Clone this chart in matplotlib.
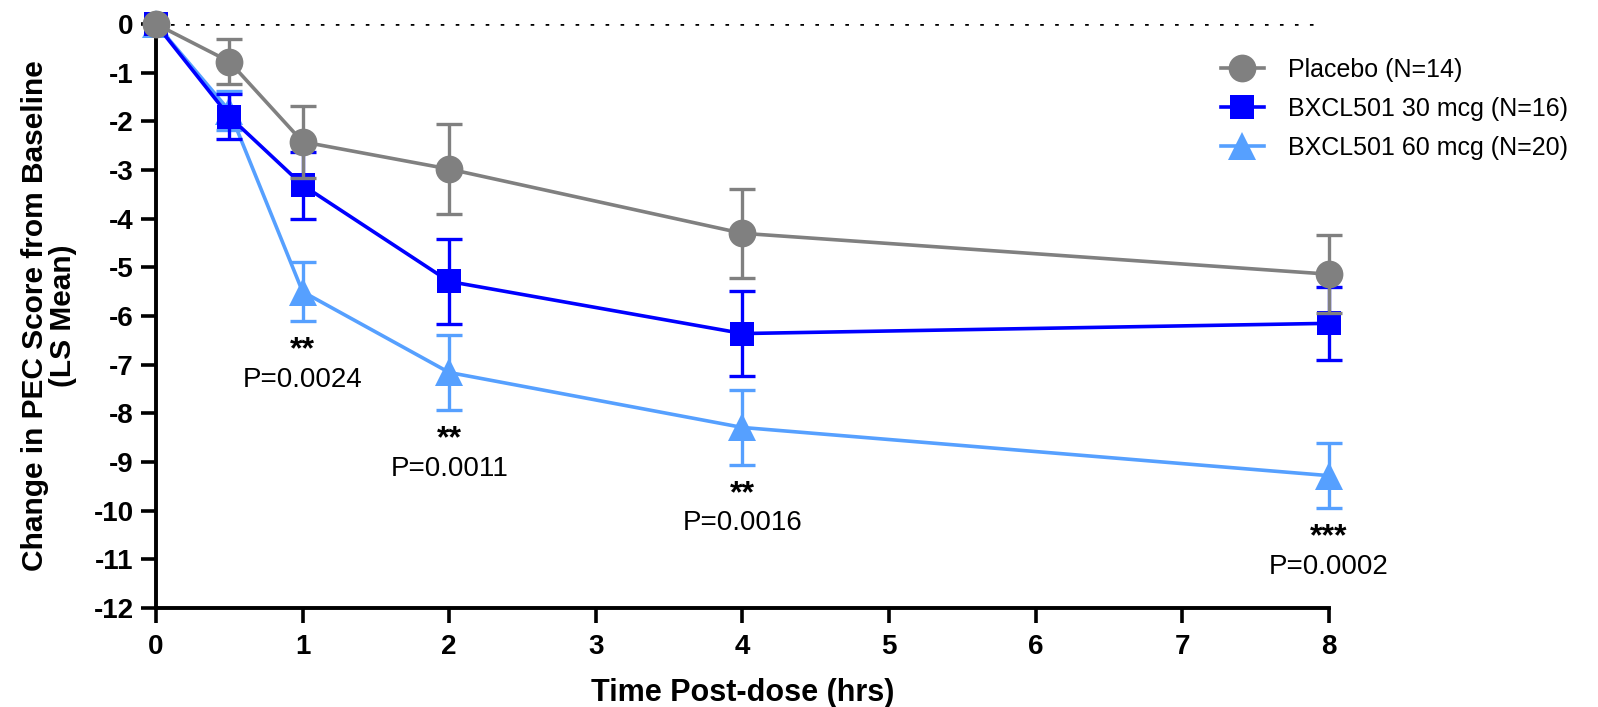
import matplotlib
matplotlib.use('Agg')
import matplotlib.pyplot as plt
import numpy as np

# Data (LS mean change and SE)
time_hrs = [0, 0.5, 1, 2, 4, 8]

placebo_mean = [0, -0.77, -2.42, -2.98, -4.30, -5.14]
placebo_se = [0, 0.46, 0.74, 0.92, 0.91, 0.80]

dose30_mean = [0, -1.90, -3.31, -5.29, -6.36, -6.15]
dose30_se = [0, 0.46, 0.69, 0.88, 0.87, 0.75]

dose60_mean = [0, -1.78, -5.50, -7.16, -8.29, -9.28]
dose60_se = [0, 0.40, 0.61, 0.78, 0.77, 0.67]

sig_times = [1, 2, 4, 8]
sig_stars = ['**', '**', '**', '***']
sig_pvals = ['P=0.0024', 'P=0.0011', 'P=0.0016', 'P=0.0002']

labels = ['Placebo (N=14)', 'BXCL501 30 mcg (N=16)', 'BXCL501 60 mcg (N=20)']

plt.rcParams['font.family'] = ['Liberation Sans', 'DejaVu Sans']
plt.rcParams['axes.unicode_minus'] = False

fig = plt.figure(figsize=(15.98, 7.07), dpi=100)
ax = fig.add_axes([0.0976, 0.140, 0.734, 0.826])

GRAY = '#808080'
BLUE = '#0000FF'
LBLUE = '#56A0FF'

# reference line at zero
ax.plot([0, 7.93], [0, 0], color='black', lw=2.6, linestyle=(0, (1.0, 3.15)), zorder=1)

series = [
    (dose60_mean, dose60_se, LBLUE, '^', 20, labels[2], 3),
    (dose30_mean, dose30_se, BLUE, 's', 17, labels[1], 4),
    (placebo_mean, placebo_se, GRAY, 'o', 20, labels[0], 5),
]
handles = {}
for mean, se, col, mk, ms, lab, z in series:
    eb = ax.errorbar(time_hrs, mean, yerr=se, fmt='none', ecolor=col,
                     elinewidth=2.4, capsize=9.5, capthick=2.4, zorder=z - 0.5)
    for art in list(eb.lines[1]) + list(eb.lines[2]):
        art.set_clip_on(False)
    ln, = ax.plot(time_hrs, mean, color=col, lw=2.6, marker=mk, markersize=ms,
                  markeredgewidth=0, label=lab, zorder=z, clip_on=False)
    handles[lab] = ln

# significance annotations under the 60 mcg group
for t, st, p in zip(sig_times, sig_stars, sig_pvals):
    i = time_hrs.index(t)
    low = dose60_mean[i] - dose60_se[i]
    ax.text(t, low - 0.6, st, ha='center', va='center', fontsize=23, fontweight='bold')
    ax.text(t, low - 1.2, p, ha='center', va='center', fontsize=20)

ax.set_xlim(0, 8)
ax.set_ylim(-12, 0)
ax.set_xticks(range(0, 9))
ax.set_yticks(range(-12, 1))
ax.tick_params(axis='both', width=2.6, length=11, labelsize=20, pad=5)
ax.tick_params(axis='x', pad=8)
for lbl in ax.get_xticklabels() + ax.get_yticklabels():
    lbl.set_fontweight('bold')

ax.spines['top'].set_visible(False)
ax.spines['right'].set_visible(False)
ax.spines['left'].set_linewidth(2.8)
ax.spines['bottom'].set_linewidth(2.8)

ax.set_xlabel('Time Post-dose (hrs)', fontsize=22, fontweight='bold', labelpad=13)
ax.set_ylabel('Change in PEC Score from Baseline\n(LS Mean)', fontsize=21.5,
              fontweight='bold', labelpad=12, linespacing=1.0)

order = [labels[0], labels[1], labels[2]]
fig.legend([handles[k] for k in order], order, loc='upper left',
           bbox_to_anchor=(0.750, 0.95), frameon=False, fontsize=18,
           handlelength=1.7, handletextpad=1.0, labelspacing=0.6)

fig.savefig('out.png', dpi=100)
